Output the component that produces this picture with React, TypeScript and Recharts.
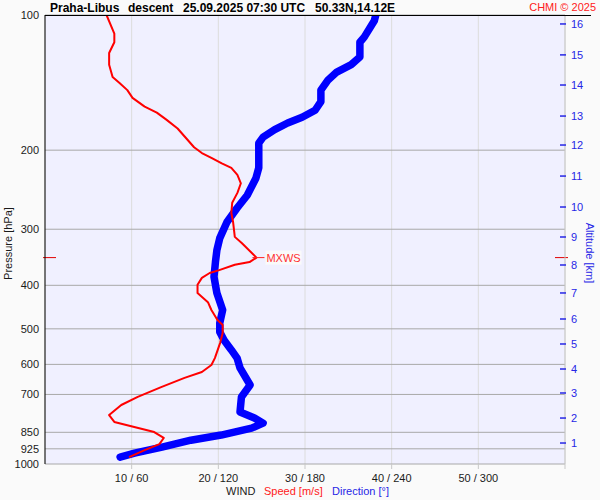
import React from 'react';
import { ScatterChart, Scatter, XAxis, YAxis, CartesianGrid, ReferenceLine, ReferenceDot } from 'recharts';

// wind speed profile (m/s) by pressure level (hPa)
const speedPressure = [100, 110, 115, 121.5, 129, 137.5, 141.7, 147, 153, 160, 165, 171, 179, 197, 203, 208, 214, 219, 227, 237, 249, 262, 276, 289, 312, 322, 347, 355, 360, 370, 375.5, 385, 399, 416, 436, 454, 478, 490, 511, 538, 581, 602, 624, 643, 674, 709, 739, 778, 806, 827, 849, 875, 903, 931, 965];
const speedMs = [7.1, 8.0, 8.0, 7.4, 7.4, 7.8, 8.6, 9.5, 10.1, 11.5, 12.9, 14.0, 15.3, 17.2, 18.1, 19.2, 20.4, 21.5, 22.2, 22.6, 22.2, 21.6, 21.5, 21.7, 21.9, 22.7, 24.4, 23.6, 21.9, 20.1, 19.0, 18.1, 17.6, 17.6, 18.8, 19.2, 19.9, 20.5, 20.5, 20.2, 19.6, 19.2, 18.1, 16.1, 13.4, 10.7, 8.8, 7.4, 8.0, 10.3, 12.6, 13.7, 13.2, 11.5, 9.7];

// wind direction profile (deg)
const dirPressure = [100, 103, 112, 115, 124, 129, 134, 139.5, 147, 156, 163, 169, 174, 180, 187, 193, 205, 219, 231, 252, 269, 289, 314, 334, 355, 383, 416, 454, 485, 508, 530, 557, 581, 611, 667, 709, 766, 790, 811, 832, 862, 885, 917, 946, 965];
const dirDeg = [229, 228, 221, 218, 218, 212, 202, 196, 191, 191, 187, 178, 168, 159, 151, 148, 148, 148, 146, 140, 133, 126, 121, 119, 118, 117, 119, 123, 121, 121, 124, 129, 133, 135, 142, 136, 135, 145, 151, 143, 122, 101, 81, 62, 52];

const pressureTicks = [100, 200, 300, 400, 500, 600, 700, 850, 925, 1000];
const altitudeKm = [1, 2, 3, 4, 5, 6, 7, 8, 9, 10, 11, 12, 13, 14, 15, 16];
const altitudePressure = [898, 790, 694.8, 614.4, 540.4, 475.4, 416, 360.4, 312.2, 267.7, 228.4, 194.8, 167.9, 143.2, 122.7, 104.7];
const windTicks = [10, 20, 30, 40, 50, 60];
const windTickLabels = ['10 / 60', '20 / 120', '30 / 180', '40 / 240', '50 / 300', ''];

const mxwsPressure = 347;
const mxwsSpeed = 24.4;

const speedData = speedPressure.map((p, i) => ({ p, v: speedMs[i] }));
const dirData = dirPressure.map((p, i) => ({ p, d: dirDeg[i] }));

const FONT = '"Liberation Sans", Arial, sans-serif';
const BLUE_TEXT = '#2626e6';
const PLOT_BOTTOM = 464;

const NoDot = () => <g />;

const LeftTick = ({ x, y, payload }: any) => (
  <text x={x} y={y} dy={4} textAnchor="end" fontSize={11} fill="#1a1a1a" fontFamily={FONT}>
    {payload.value}
  </text>
);

const RightTick = ({ x, y, index }: any) => (
  <g>
    <line x1={x - 5} x2={x + 1} y1={y} y2={y} stroke={BLUE_TEXT} strokeWidth={1.5} />
    <text x={x + 6} y={y} dy={4} textAnchor="start" fontSize={11} fill={BLUE_TEXT} fontFamily={FONT}>
      {altitudeKm[index]}
    </text>
  </g>
);

// x axis tick: short grey stub under the plot plus "speed / direction" label
const BottomTick = ({ x, index }: any) => (
  <g>
    <line x1={x} x2={x} y1={PLOT_BOTTOM} y2={PLOT_BOTTOM + 5} stroke="#c8c8c8" />
    <text x={x} y={PLOT_BOTTOM + 18} textAnchor="middle" fontSize={11} fill="#1a1a1a" fontFamily={FONT}>
      {windTickLabels[index]}
    </text>
  </g>
);

const MxwsTicks = ({ x1, y1, x2 }: any) => (
  <g>
    <line x1={x1 - 2} x2={x1 + 11} y1={y1} y2={y1} stroke="#e00000" />
    <line x1={x2 - 10} x2={x2 + 3} y1={y1} y2={y1} stroke="#e00000" />
  </g>
);

const MxwsLabel = ({ cx, cy }: any) => (
  <g>
    <line x1={cx - 4} x2={cx + 8} y1={cy} y2={cy} stroke="#ff2020" />
    <rect x={cx + 9} y={cy - 7} width={36} height={14} fill="#fafafa" />
    <text x={cx + 10} y={cy + 4} fontSize={11} fill="#ff3030" fontFamily={FONT}>MXWS</text>
  </g>
);

export default function App() {
  return (
    <div style={{ position: 'relative', width: 600, height: 500, background: '#fafafa', fontFamily: FONT }}>
      <style>{'body{margin:0}'}</style>
      <ScatterChart width={600} height={500} margin={{ top: 15, right: 0, bottom: 0, left: 0 }}>
        <CartesianGrid xAxisId="spd" yAxisId="p" horizontal={false} stroke="#dcdcdc" fill="#f0f0ff" />
        <CartesianGrid xAxisId="spd" yAxisId="p" vertical={false} stroke="#a8a8a8" />
        <XAxis
          xAxisId="spd"
          type="number"
          dataKey="v"
          domain={[0, 60]}
          ticks={windTicks}
          interval={0}
          height={36}
          tickSize={0}
          tickMargin={0}
          axisLine={false}
          tickLine={false}
          tick={<BottomTick />}
          allowDataOverflow
        />
        <XAxis xAxisId="dir" type="number" dataKey="d" domain={[0, 360]} hide allowDataOverflow />
        <YAxis
          yAxisId="p"
          type="number"
          dataKey="p"
          scale="log"
          domain={[100, 1000]}
          reversed
          ticks={pressureTicks}
          interval={0}
          width={45}
          tickSize={0}
          tickMargin={6}
          tickLine={false}
          axisLine={{ stroke: '#000' }}
          tick={<LeftTick />}
          allowDataOverflow
        />
        <YAxis
          yAxisId="alt"
          orientation="right"
          type="number"
          dataKey="p"
          scale="log"
          domain={[100, 1000]}
          reversed
          ticks={altitudePressure}
          interval={0}
          width={35}
          tickSize={0}
          tickMargin={0}
          tickLine={false}
          axisLine={{ stroke: '#c8c8c8' }}
          tick={<RightTick />}
          allowDataOverflow
        />
        <Scatter
          name="Direction"
          data={dirData}
          xAxisId="dir"
          yAxisId="p"
          fill="#0000ff"
          line={{ stroke: '#0000ff', strokeWidth: 7.5, strokeLinejoin: 'round', strokeLinecap: 'round' }}
          shape={NoDot}
          isAnimationActive={false}
        />
        <Scatter
          name="Speed"
          data={speedData}
          xAxisId="spd"
          yAxisId="p"
          fill="#ff0000"
          line={{ stroke: '#ff0000', strokeWidth: 2, strokeLinejoin: 'round' }}
          shape={NoDot}
          isAnimationActive={false}
        />
        <ReferenceLine xAxisId="spd" yAxisId="p" y={mxwsPressure} shape={MxwsTicks} />
        <ReferenceDot xAxisId="spd" yAxisId="p" x={mxwsSpeed} y={mxwsPressure} shape={MxwsLabel} />
      </ScatterChart>
      <svg width={600} height={500} style={{ position: 'absolute', left: 0, top: 0, pointerEvents: 'none' }} fontFamily={FONT}>
        <text y={12} fontSize={12} fontWeight="bold" fill="#000">
          <tspan x={50}>Praha-Libus</tspan>
          <tspan x={128}>descent</tspan>
          <tspan x={183}>25.09.2025 07:30 UTC</tspan>
          <tspan x={315}>50.33N,14.12E</tspan>
        </text>
        <line x1={45} x2={591} y1={15.5} y2={15.5} stroke="#000" />
        <text x={596} y={11} textAnchor="end" fontSize={11} fill="#ff2020">CHMI © 2025</text>
        <text transform="translate(12,243.5) rotate(-90)" textAnchor="middle" fontSize={11} fill="#1a1a1a">Pressure [hPa]</text>
        <text transform="translate(586,253) rotate(90)" textAnchor="middle" fontSize={11} fill={BLUE_TEXT}>Altitude [km]</text>
        <text y={495} fontSize={11}>
          <tspan x={226} fill="#1a1a1a">WIND</tspan>
          <tspan x={264} fill="#ff2020">Speed [m/s]</tspan>
          <tspan x={332} fill={BLUE_TEXT}>Direction [°]</tspan>
        </text>
      </svg>
    </div>
  );
}
